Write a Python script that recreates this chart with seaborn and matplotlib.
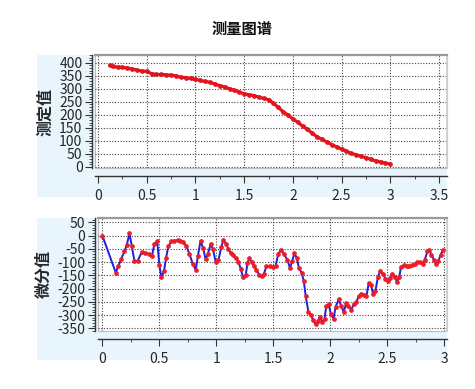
import numpy as np
import pandas as pd
import matplotlib
matplotlib.use("Agg")
import matplotlib.pyplot as plt
from matplotlib.patches import Rectangle
from matplotlib.ticker import MultipleLocator
import seaborn as sns

# ---- data ----
meas_x = [0.12, 0.15, 0.20, 0.25, 0.30, 0.35, 0.40, 0.45, 0.50, 0.55, 0.60, 0.65, 0.70,
          0.75, 0.80, 0.85, 0.90, 0.95, 1.00, 1.05, 1.10, 1.15, 1.20, 1.25, 1.30, 1.35,
          1.40, 1.45, 1.50, 1.55, 1.60, 1.65, 1.70, 1.75, 1.80, 1.85, 1.90, 1.95, 2.00,
          2.05, 2.10, 2.15, 2.20, 2.25, 2.30, 2.35, 2.40, 2.45, 2.50, 2.55, 2.60, 2.65,
          2.70, 2.75, 2.80, 2.85, 2.90, 2.95, 3.00]
meas_y = [390, 386, 383, 383, 380, 376, 372, 368, 367, 358, 355, 355, 354,
          352, 350, 344, 343, 340, 336, 332, 328, 325, 318, 312, 307, 300,
          294, 287, 281, 277, 274, 268, 263, 258, 245, 228, 212, 199, 184,
          171, 156, 144, 128, 115, 105, 95, 85, 76, 68, 60, 51, 46,
          40, 35, 28, 23, 18, 14, 10]

diff_x = [0.000, 0.118, 0.140, 0.165, 0.194, 0.215, 0.238, 0.259, 0.282, 0.310, 0.347,
          0.376, 0.406, 0.435, 0.456, 0.482, 0.500, 0.518, 0.541, 0.560, 0.579, 0.606,
          0.632, 0.662, 0.685, 0.710, 0.735, 0.765, 0.794, 0.820, 0.838, 0.862, 0.885,
          0.906, 0.926, 0.950, 0.970, 0.994, 1.018, 1.044, 1.062, 1.085, 1.106, 1.126,
          1.150, 1.170, 1.194, 1.215, 1.235, 1.259, 1.274, 1.290, 1.310, 1.332, 1.353,
          1.376, 1.400, 1.418, 1.440, 1.470, 1.500, 1.520, 1.544, 1.568, 1.594, 1.624,
          1.647, 1.668, 1.685, 1.706, 1.726, 1.750, 1.768, 1.785, 1.809, 1.830, 1.853,
          1.873, 1.890, 1.910, 1.932, 1.950, 1.965, 1.985, 2.006, 2.030, 2.047, 2.074,
          2.097, 2.118, 2.140, 2.160, 2.185, 2.206, 2.230, 2.250, 2.273, 2.300, 2.318,
          2.338, 2.360, 2.376, 2.397, 2.418, 2.440, 2.465, 2.485, 2.506, 2.524, 2.544,
          2.565, 2.588, 2.606, 2.620, 2.647, 2.670, 2.694, 2.720, 2.744, 2.765, 2.788,
          2.810, 2.830, 2.853, 2.868, 2.888, 2.910, 2.930, 2.950, 2.970, 2.990]
diff_y = [0, -140, -116, -89, -60, -35, 8, -41, -97, -95, -62,
          -66, -69, -79, -33, -22, -110, -157, -135, -83, -41, -22,
          -19, -18, -19, -24, -38, -69, -108, -129, -79, -20, -48,
          -89, -70, -33, -50, -98, -94, -45, -16, -31, -50, -66,
          -75, -85, -98, -126, -157, -148, -104, -85, -100, -116, -129,
          -148, -154, -145, -116, -116, -119, -116, -69, -54, -70, -91,
          -123, -95, -66, -85, -123, -141, -172, -229, -288, -300, -320,
          -335, -323, -308, -325, -316, -266, -260, -295, -314, -269, -241,
          -266, -288, -256, -266, -279, -260, -250, -229, -220, -225, -229,
          -179, -188, -220, -208, -158, -132, -145, -164, -170, -160, -144,
          -158, -175, -158, -120, -113, -116, -116, -113, -108, -101, -101,
          -106, -91, -60, -54, -72, -91, -108, -95, -72, -54]

title = "测量图谱"
ylab_top = "测定值"
ylab_bot = "微分值"

# ---- style ----
sns.set_theme(style="white")
plt.rcParams['font.family'] = ['Noto Sans CJK SC', 'DejaVu Sans']
plt.rcParams['axes.unicode_minus'] = False

W, H = 475, 389
fig = plt.figure(figsize=(W / 100, H / 100), dpi=100)
fig.patch.set_facecolor('white')

panel_color = '#e9f5fd'
for top_px, bot_px in ((55, 197), (218, 360)):
    fig.add_artist(Rectangle((37 / W, 1 - bot_px / H), 410 / W, (bot_px - top_px) / H,
                             transform=fig.transFigure, facecolor=panel_color,
                             edgecolor='none', zorder=-10))

ax1 = fig.add_axes([95 / W, 1 - 168 / H, 352 / W, 113 / H])
ax2 = fig.add_axes([98 / W, 1 - 331 / H, 349 / W, 113 / H])
ax1.set_zorder(1)
ax2.set_zorder(1)

df_top = pd.DataFrame({"x": meas_x, "y": meas_y})
df_bot = pd.DataFrame({"x": diff_x, "y": diff_y})

sns.lineplot(data=df_top, x="x", y="y", ax=ax1, color='#e3141c', linewidth=2.3,
             marker='o', markersize=2.6, markerfacecolor='#e3141c',
             markeredgecolor='#e3141c', sort=False)
sns.lineplot(data=df_bot, x="x", y="y", ax=ax2, color='#1f1fe0', linewidth=1.4,
             marker='o', markersize=2.6, markerfacecolor='#ee1c25',
             markeredgecolor='#ee1c25', sort=False)

ax1.set_xlim(-0.031, 3.582)
ax1.set_ylim(-5, 430)
ax2.set_xlim(-0.038, 3.025)
ax2.set_ylim(-360, 66)

ax1.set_xticks([0, 0.5, 1, 1.5, 2, 2.5, 3, 3.5])
ax1.set_xticklabels(['0', '0.5', '1', '1.5', '2', '2.5', '3', '3.5'])
ax2.set_xticks([0, 0.5, 1, 1.5, 2, 2.5, 3])
ax2.set_xticklabels(['0', '0.5', '1', '1.5', '2', '2.5', '3'])
ax1.set_yticks([0, 50, 100, 150, 200, 250, 300, 350, 400])
ax2.set_yticks([50, 0, -50, -100, -150, -200, -250, -300, -350])
for ax in (ax1, ax2):
    ax.xaxis.set_minor_locator(MultipleLocator(0.25))
    ax.yaxis.set_minor_locator(MultipleLocator(10))

for ax, lab in ((ax1, ylab_top), (ax2, ylab_bot)):
    ax.set_facecolor('white')
    ax.grid(True, which='major', linestyle=(0, (1, 1.5)), color='#444444', linewidth=0.8)
    ax.set_axisbelow(True)
    ax.set_xlabel('')
    ax.set_ylabel(lab, fontsize=11.5, fontweight='bold', labelpad=4)
    ax.spines['bottom'].set_position(('outward', 6))
    ax.spines['left'].set_position(('outward', 2))
    ax.spines['left'].set_color('#333333')
    ax.spines['bottom'].set_color('#333333')
    ax.spines['top'].set_color('#9a9a9a')
    ax.spines['top'].set_linewidth(1.6)
    ax.spines['right'].set_color('#cfcfcf')
    ax.spines['left'].set_linewidth(1.0)
    ax.spines['bottom'].set_linewidth(1.0)
    ax.tick_params(axis='both', which='major', direction='out', length=5, width=0.8,
                   color='#333333', labelsize=10, pad=2)
    ax.tick_params(axis='both', which='minor', direction='out', length=2.5, width=0.6,
                   color='#333333')
    ax.tick_params(axis='x', which='major', pad=4)
    ax.tick_params(bottom=True, left=True, which='both')
    ax.patch.set_edgecolor('#bbbbbb')
    ax.patch.set_linewidth(0.8)

fig.text(242 / W, 1 - 29 / H, title, ha='center', va='center',
         fontsize=11, fontweight='bold', color='#111111')

fig.savefig('out.png', dpi=100, facecolor='white')
